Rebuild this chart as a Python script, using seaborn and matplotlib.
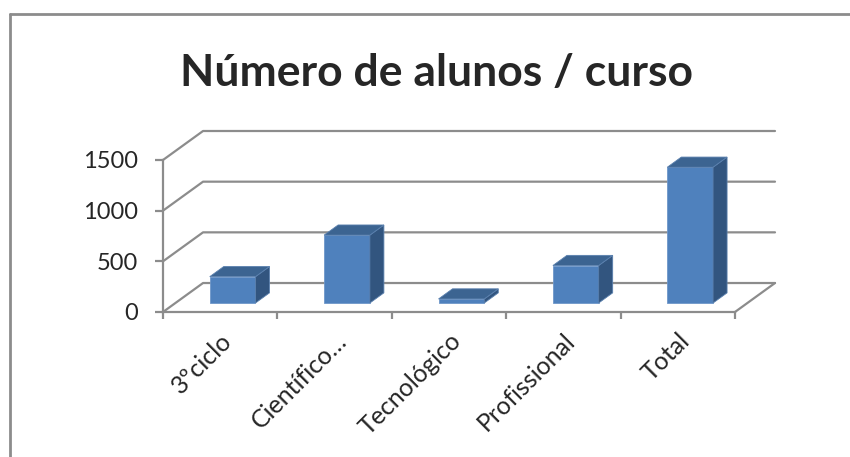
import numpy as np
import matplotlib.pyplot as plt
import seaborn as sns
from matplotlib.patches import Polygon
from matplotlib.lines import Line2D

# dados
cursos = ["3ºciclo", "Científico…", "Tecnológico", "Profissional", "Total"]
alunos = [260, 670, 40, 370, 1340]
y_ticks = [0, 500, 1000, 1500]
titulo = "Número de alunos / curso"

sns.set_style("white")
plt.rcParams['font.family'] = ['Lato', 'DejaVu Sans']

cor_frente = '#4F81BD'
cor_topo = '#3C6491'
cor_lado = '#32557F'
cor_grelha = '#8C8C8C'

# profundidade do efeito 3D em unidades de dados
DX = 0.35     # categorias
DY = 286      # alunos
d0 = 0.31     # posicao da face frontal das barras
bd = 0.35     # profundidade das barras

fig = plt.figure(figsize=(8.5, 4.57), dpi=100)
ax = fig.add_axes([163/850, (457-312)/457, (775-163)/850, (312-131)/457])

sns.barplot(x=cursos, y=alunos, ax=ax, color=cor_frente, width=0.40,
            saturation=1, edgecolor='#6F97C9', linewidth=0.6, zorder=3)

ax.set_xlim(-0.5, 4.5 + DX)
ax.set_ylim(0, 1500 + DY)

# paredes / grelha
for v in y_ticks:
    ax.plot([-0.5, -0.5 + DX, 4.5 + DX], [v, v + DY, v + DY],
            color=cor_grelha, lw=1.6, zorder=1, clip_on=False)
ax.plot([4.5, 4.5 + DX], [0, DY], color=cor_grelha, lw=1.6, zorder=1, clip_on=False)

# faces das barras em 3D
for p in list(ax.patches):
    x0 = p.get_x() + DX * d0
    y0 = p.get_y() + DY * d0
    w = p.get_width()
    h = p.get_height()
    p.set_x(x0)
    p.set_y(y0)
    ox, oy = DX * bd, DY * bd
    topo = Polygon([[x0, y0 + h], [x0 + w, y0 + h], [x0 + w + ox, y0 + h + oy], [x0 + ox, y0 + h + oy]],
                   closed=True, facecolor=cor_topo, edgecolor='#5A80AE', lw=0.6, zorder=3)
    lado = Polygon([[x0 + w, y0], [x0 + w + ox, y0 + oy], [x0 + w + ox, y0 + h + oy], [x0 + w, y0 + h]],
                   closed=True, facecolor=cor_lado, edgecolor='#5A80AE', lw=0.6, zorder=3)
    ax.add_patch(lado)
    ax.add_patch(topo)

# eixos
for s in ['top', 'right']:
    ax.spines[s].set_visible(False)
ax.spines['left'].set_bounds(0, 1500)
ax.spines['bottom'].set_bounds(-0.5, 4.5)
for s in ['left', 'bottom']:
    ax.spines[s].set_color(cor_grelha)
    ax.spines[s].set_linewidth(1.6)
    ax.spines[s].set_zorder(2)

ax.set_yticks(y_ticks)
ax.set_yticklabels([str(v) for v in y_ticks], fontsize=17)
ax.tick_params(axis='y', direction='out', length=6, width=1.6, color=cor_grelha, pad=12, left=True)

ax.set_xticks(range(len(cursos)))
ax.set_xticklabels(cursos, fontsize=18, rotation=45, ha='right', va='top', rotation_mode='anchor')
ax.set_xticks(np.arange(-0.5, 5, 1), minor=True)
ax.tick_params(axis='x', which='major', length=0, pad=12)
ax.tick_params(axis='x', which='minor', direction='out', length=5, width=1.6, color=cor_grelha, bottom=True)
ax.set_xlabel('')
ax.set_ylabel('')

fig.text(436/850, 1 - 86/457, titulo, ha='center', va='baseline',
         fontsize=32, fontweight='bold')

# moldura do grafico
fig.add_artist(Line2D([10/850, 10/850], [0, 1 - 14/457], transform=fig.transFigure, color=cor_grelha, lw=2))
fig.add_artist(Line2D([10/850, 1], [1 - 14/457, 1 - 14/457], transform=fig.transFigure, color=cor_grelha, lw=2))

fig.savefig('out.png', dpi=100)
